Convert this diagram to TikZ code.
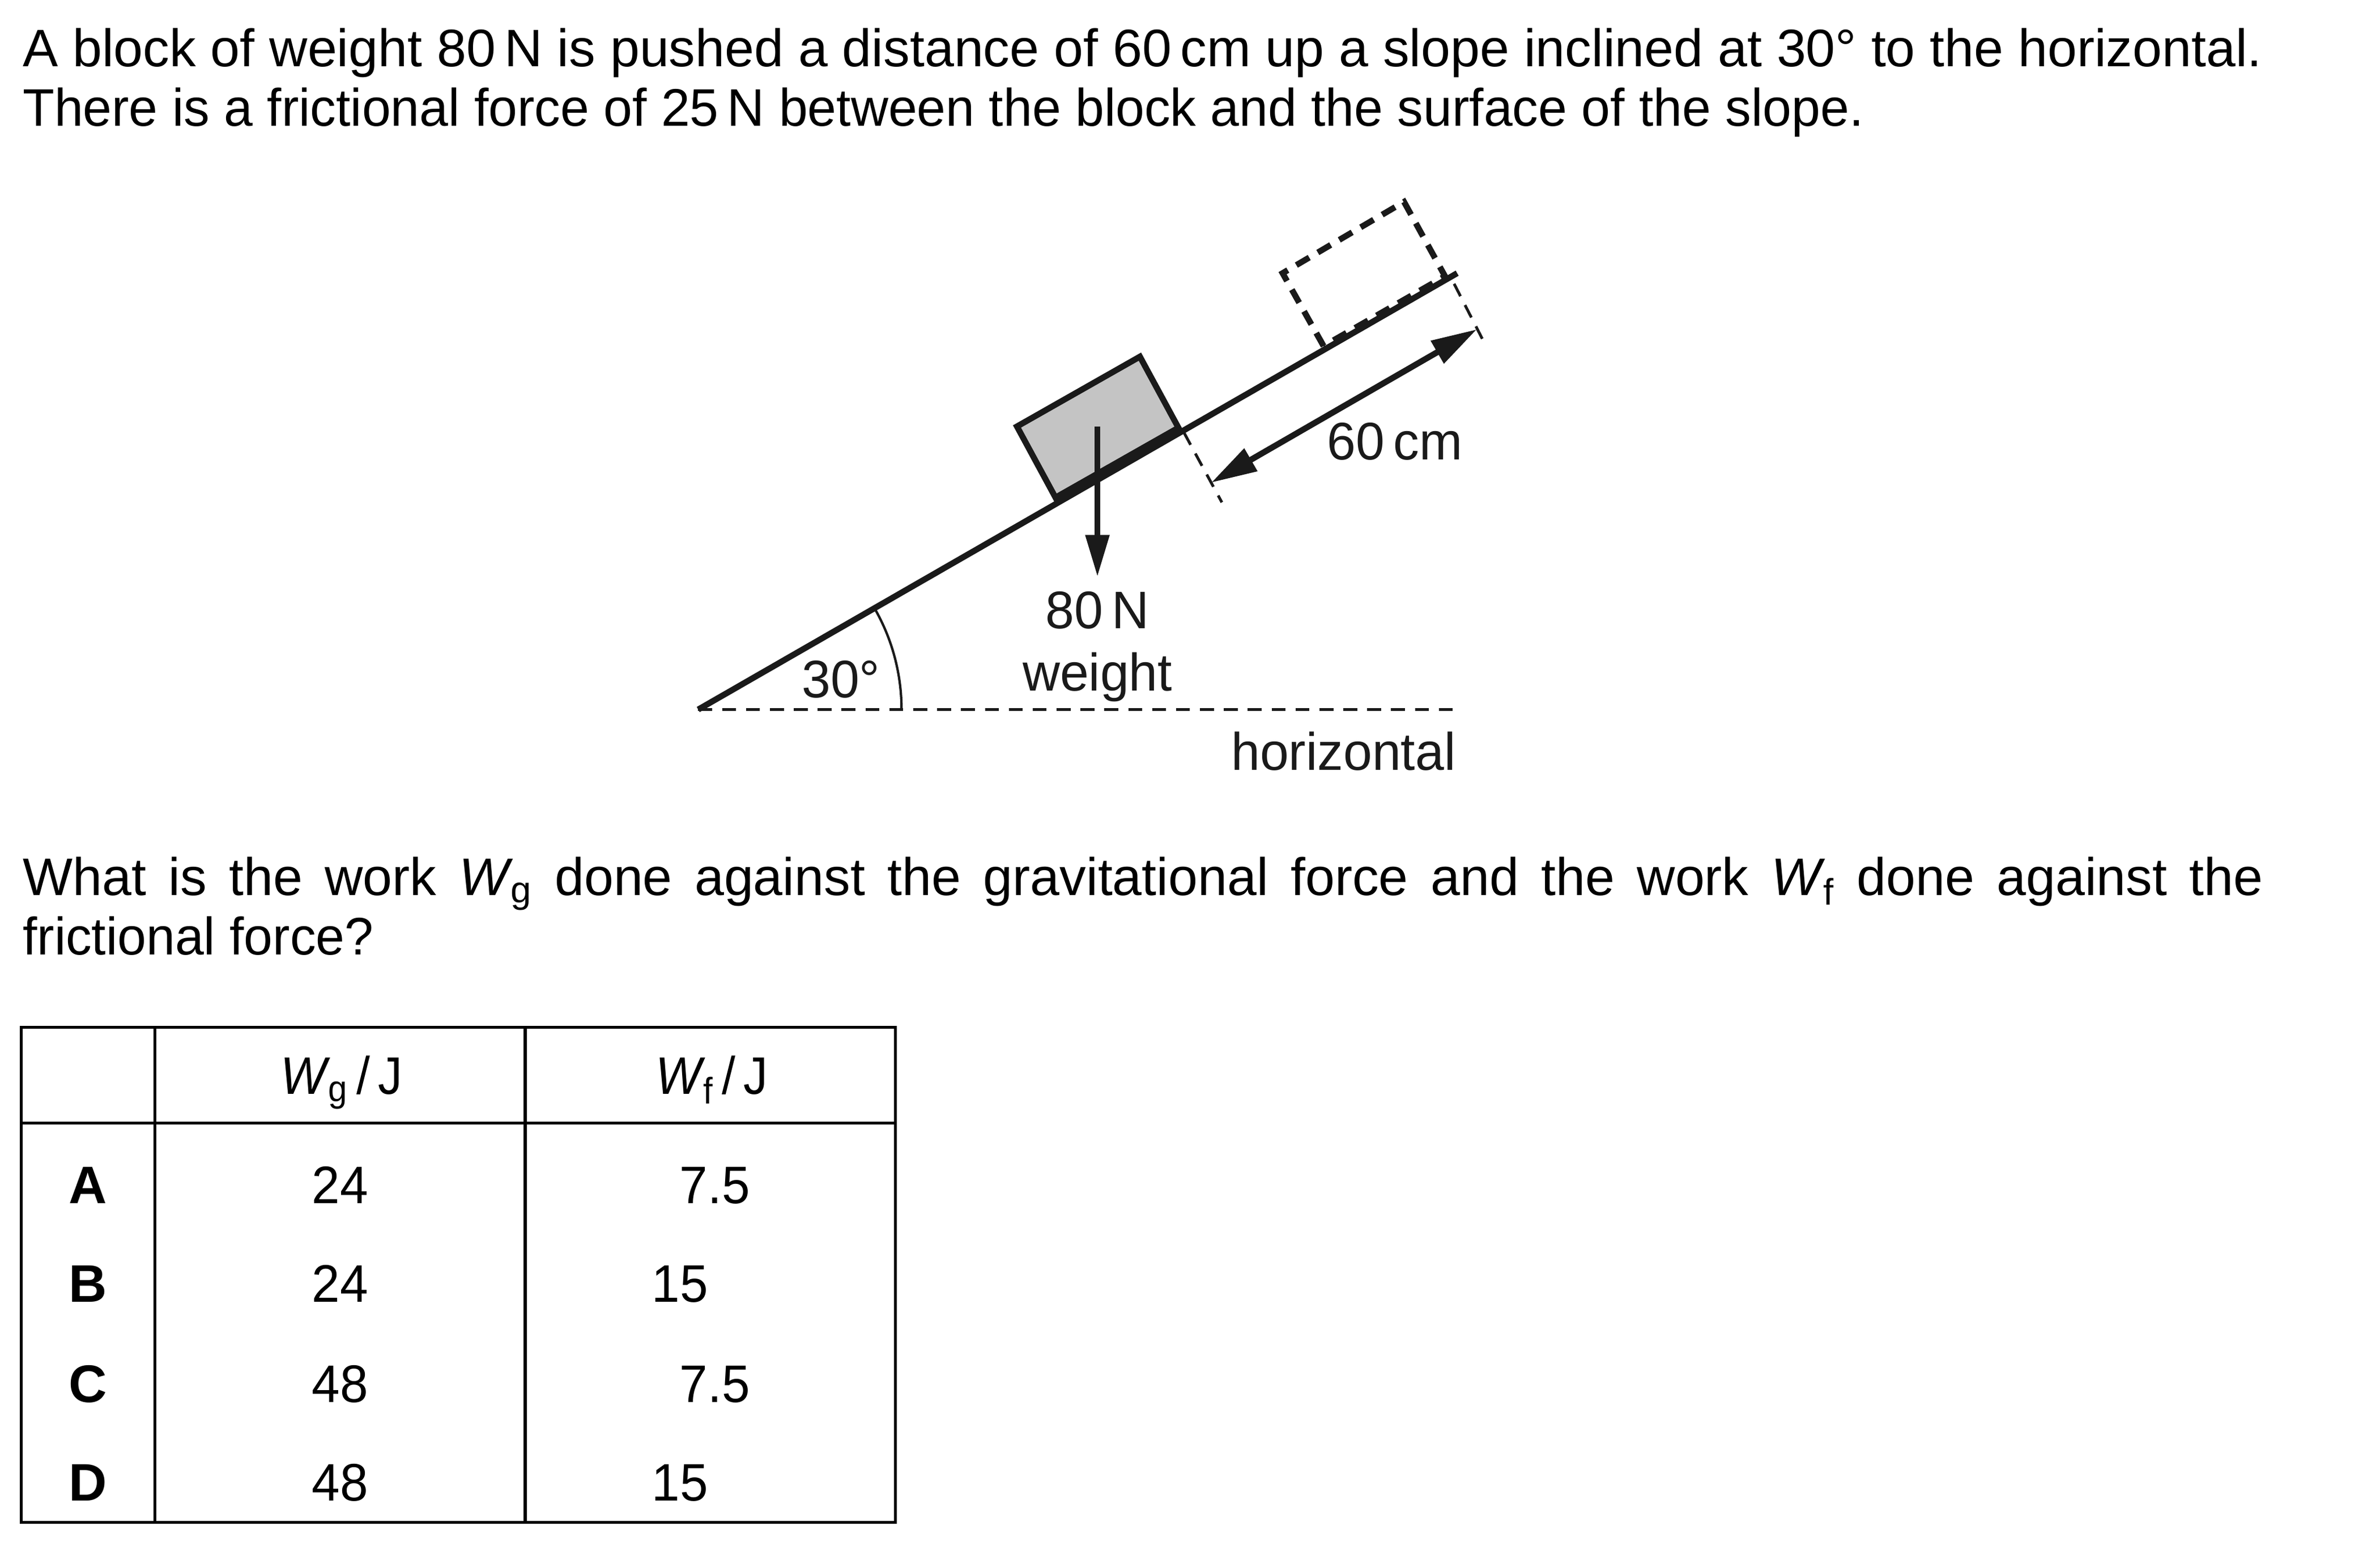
\documentclass[tikz,border=0pt]{standalone}
\usepackage{graphicx}
\usepackage{fontspec}
\setmainfont{Liberation Sans}
\usetikzlibrary{arrows.meta}
\definecolor{ink}{HTML}{1A1A1A}
\newcommand{\Wsym}[1]{\textit{W}\textsubscript{\kern-0.06em #1}}
\newcommand{\nar}[1]{\scalebox{0.979}[1]{#1}}
\newcommand{\tnar}[1]{\scalebox{0.955}[1]{#1}}
\tikzset{
  txt/.style={inner sep=0pt,outer sep=0pt,font=\fontsize{26.55}{29.8}\selectfont},
  para/.style={txt,anchor=base west},
  lab/.style={txt,anchor=base,text=ink},
  cell/.style={txt,anchor=base,text=black},
  boldcell/.style={cell,font=\fontsize{26.55}{29.8}\selectfont\bfseries},
  slope/.style={draw=ink,line width=3pt},
  blockbox/.style={draw=ink,line width=3pt,fill=black!23,line join=miter},
  ghost/.style={draw=ink,line width=3pt,dash pattern=on 7.5pt off 5pt},
  thindash/.style={draw=ink,line width=1.4pt,dash pattern=on 7pt off 5pt},
  arc line/.style={draw=ink,line width=1.2pt},
  force/.style={draw=ink,line width=3pt,-{Triangle[length=21pt,width=11.5pt]}},
  dim/.style={draw=ink,line width=3pt,{Triangle[length=23pt,width=12.5pt]}-{Triangle[length=23pt,width=12.5pt]}},
  rule/.style={draw=black,line width=1.5pt}
}
\begin{document}
\begin{tikzpicture}[x=0.026792cm,y=-0.026792cm]
\useasboundingbox (0,0) rectangle (1568,1021.6);
% question text
\node[para] (l1) at (15,44) {A block of weight 80\,N is pushed a distance of 60\,cm up a slope inclined at 30° to the horizontal.};
\node[para] (l2) at (15,83) {\nar{There is a frictional force of 25\,N between the block and the surface of the slope.}};
\node[para] (q1) at (15,590) {\hbox to 1476\dimexpr0.026792cm\relax{What is the work \Wsym{g} done against the gravitational force and the work \Wsym{f} done against the}};
\node[para] (q2) at (15,629) {\nar{frictional force?}};
% slope
\coordinate (s0) at (460,467.5);
\coordinate (s1) at (960,180);
\coordinate (h1) at (960,467.5);
\draw[thindash] (s0) -- (h1);
\draw[slope] (s0) -- (s1);
% block
\coordinate (b1) at (696,329);
\coordinate (b2) at (670,281);
\coordinate (b3) at (751,235);
\coordinate (b4) at (777,283);
\draw[blockbox] (b1) -- (b2) -- (b3) -- (b4) -- cycle;
\draw[draw=ink,line width=5pt] (b1) -- (b4);
% dashed block
\coordinate (g1) at (872,228);
\coordinate (g2) at (845,180);
\coordinate (g3) at (925,133);
\coordinate (g4) at (952,182);
\draw[ghost] (g1) -- (g2) -- (g3) -- (g4) -- (g1);
% weight arrow
\coordinate (w0) at (723,281);
\coordinate (w1) at (723,380);
\draw[force] (w0) -- (w1);
% distance marker
\coordinate (t1a) at (780,285);
\coordinate (t1b) at (805,331);
\coordinate (t2a) at (958,187);
\coordinate (t2b) at (979,228);
\draw[thindash] (t1a) -- (t1b);
\draw[thindash] (t2a) -- (t2b);
\coordinate (d0) at (798,318);
\coordinate (d1) at (973,217);
\draw[dim] (d0) -- (d1);
% angle arc
\draw[arc line] (576.0,400.5) arc[start angle=-30,end angle=0,radius=134];
% diagram labels
\node[lab] (n60) at (919,303) {\nar{60\,cm}};
\node[lab] (n80) at (723,414) {\nar{80\,N}};
\node[lab] (nw) at (723,455) {\nar{weight}};
\node[lab] (n30) at (554,459.5) {\nar{30°}};
\node[lab,anchor=base east] (nh) at (959,507.5) {\nar{horizontal}};
% table
\coordinate (tl) at (14,677);
\coordinate (br) at (590,1003);
\draw[rule] (tl) rectangle (br);
\draw[rule] (14,740) -- (590,740);
\draw[rule] (102,677) -- (102,1003);
\draw[rule] (346,677) -- (346,1003);
\node[cell] (hg) at (225,721) {\scalebox{0.92}[1]{\Wsym{g}\,/\,J}};
\node[cell] (hf) at (469,721) {\scalebox{0.92}[1]{\Wsym{f}\,/\,J}};
\node[boldcell] (ra) at (58,793) {A};
\node[boldcell] (rb) at (58,858) {B};
\node[boldcell] (rc) at (58,924) {C};
\node[boldcell] (rd) at (58,989) {D};
\node[cell] (ga) at (224,793) {\tnar{24}};
\node[cell] (gb) at (224,858) {\tnar{24}};
\node[cell] (gc) at (224,924) {\tnar{48}};
\node[cell] (gd) at (224,989) {\tnar{48}};
\node[cell] (fa) at (471,793) {\tnar{7.5}};
\node[cell] (fb) at (448,858) {\tnar{15}};
\node[cell] (fc) at (471,924) {\tnar{7.5}};
\node[cell] (fd) at (448,989) {\tnar{15}};
\end{tikzpicture}
\end{document}
